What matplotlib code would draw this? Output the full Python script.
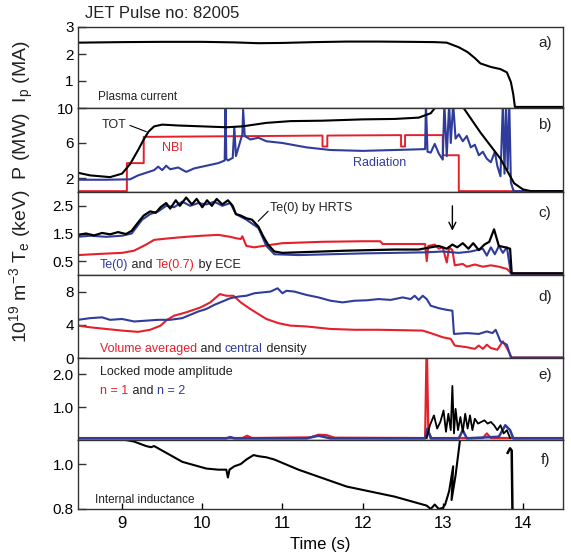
import numpy as np
import matplotlib
matplotlib.use('Agg')
import matplotlib.pyplot as plt
import matplotlib.transforms as mtransforms

plt.rcParams['font.family'] = ['Liberation Sans', 'DejaVu Sans']
plt.rcParams['mathtext.fontset'] = 'custom'
plt.rcParams['mathtext.rm'] = 'Liberation Sans'
plt.rcParams['mathtext.it'] = 'Liberation Sans:italic'

RED = '#e5202b'
BLUE = '#2f3c9c'
INK = '#222222'

# a) plasma current (MA)
ip_t = [8.45, 9.0, 9.5, 10.0, 10.4, 10.7, 11.0, 11.4, 11.8, 12.2, 12.6, 12.9, 13.05, 13.2, 13.31,
        13.4, 13.47, 13.6, 13.72, 13.8, 13.85, 13.88, 13.9, 14.5]
ip_v = [2.42, 2.44, 2.45, 2.45, 2.43, 2.40, 2.41, 2.44, 2.46, 2.46, 2.45, 2.44, 2.42, 2.25, 2.07,
        1.85, 1.65, 1.52, 1.44, 1.32, 0.96, 0.5, 0.04, 0.04]

# b) heating and radiated power (MW)
tot_t = [8.45, 8.6, 8.85, 9.0, 9.1, 9.2, 9.27, 9.33, 9.4, 9.5, 9.7, 10.0, 10.3, 10.5, 10.8, 11.1,
         11.5, 12.0, 12.4, 12.7, 12.85, 12.92, 13.1, 13.26, 13.47, 13.72, 13.89, 14.0, 14.1, 14.5]
tot_v = [2.6, 2.3, 2.1, 2.5, 3.6, 5.2, 6.4, 7.3, 7.9, 8.1, 8.0, 7.9, 7.8, 7.9, 8.3, 8.5,
         8.55, 8.7, 8.75, 8.9, 9.4, 10.2, 10.6, 10.0, 7.2, 4.2, 1.4, 0.7, 0.5, 0.5]

nbi_t = [8.45, 9.06, 9.06, 9.27, 9.27, 10.0, 10.8, 11.5, 11.5, 11.56, 11.56, 12.48, 12.48, 12.53,
         12.53, 13.0, 13.0, 13.2, 13.2, 14.5]
nbi_v = [0.5, 0.5, 3.7, 3.7, 6.7, 6.75, 6.8, 6.85, 5.6, 5.6, 6.85, 6.9, 5.6, 5.6,
         6.9, 6.9, 4.6, 4.6, 0.5, 0.5]

rad_t = [8.45, 8.8, 9.1, 9.2, 9.3, 9.4, 9.45, 9.5, 9.55, 9.6, 9.7, 9.8, 9.9, 10.0, 10.1, 10.2,
         10.28, 10.29, 10.3, 10.32, 10.38, 10.4, 10.42, 10.5, 10.51, 10.53, 10.6, 10.7, 10.8,
         11.0, 11.3, 11.6, 12.0, 12.4, 12.78, 12.79, 12.81, 12.85, 12.9, 12.95, 13.0, 13.02,
         13.05, 13.08, 13.1, 13.13, 13.16, 13.2, 13.25, 13.3, 13.35, 13.4, 13.45, 13.5, 13.55,
         13.6, 13.65, 13.68, 13.72, 13.75, 13.77, 13.79, 13.81, 13.83, 13.85, 13.88, 13.9, 14.5]
rad_v = [1.8, 1.8, 1.85, 2.3, 2.6, 2.9, 3.3, 2.9, 3.4, 3.0, 3.2, 2.7, 3.1, 3.3, 3.5, 3.7,
         4.0, 10.5, 4.2, 4.0, 4.3, 7.8, 4.5, 7.0, 9.8, 6.8, 6.4, 6.6, 6.2,
         6.0, 5.5, 5.2, 5.1, 5.2, 5.3, 10.5, 5.0, 4.9, 5.9, 4.8, 4.1, 10.5,
         4.5, 10.5, 6.0, 10.5, 6.5, 7.0, 6.2, 6.8, 5.5, 5.8, 4.6, 5.0, 4.2,
         3.8, 5.0, 3.4, 2.2, 10.5, 2.5, 10.5, 3.0, 10.5, 1.5, 0.6, 0.5, 0.5]

# c) electron temperature (keV)
hrts_t = [8.45, 8.55, 8.65, 8.75, 8.85, 8.95, 9.05, 9.12, 9.2, 9.27, 9.35, 9.42, 9.48, 9.55, 9.6,
          9.67, 9.72, 9.8, 9.87, 9.93, 10.0, 10.06, 10.12, 10.18, 10.25, 10.32, 10.38, 10.42,
          10.48, 10.55, 10.62, 10.7, 10.76, 10.82, 10.9, 11.0, 11.2, 11.5, 11.8, 12.1, 12.4,
          12.7, 12.85, 12.95, 13.05, 13.12, 13.18, 13.25, 13.32, 13.38, 13.45, 13.52, 13.58,
          13.64, 13.7, 13.78, 13.84, 13.86, 14.5]
hrts_v = [1.45, 1.5, 1.43, 1.52, 1.47, 1.55, 1.48, 1.6, 1.9, 2.15, 2.3, 2.25, 2.45, 2.6, 2.4,
          2.7, 2.5, 2.8, 2.55, 2.75, 2.45, 2.7, 2.5, 2.75, 2.55, 2.7, 2.5, 2.2,
          2.15, 2.05, 2.0, 1.75, 1.4, 1.1, 0.85, 0.8, 0.82, 0.85, 0.88, 0.9, 0.92,
          0.92, 1.0, 1.05, 0.95, 1.1, 1.0, 1.15, 0.95, 1.15, 0.9, 1.1, 1.2,
          1.65, 1.05, 1.0, 0.95, 0.06, 0.06]

ece0_t = [8.45, 8.6, 8.8, 9.0, 9.12, 9.25, 9.35, 9.45, 9.55, 9.65, 9.75, 9.85, 9.95, 10.05, 10.15,
          10.25, 10.35, 10.42, 10.55, 10.7, 10.8, 10.9, 11.2, 11.6, 12.0, 12.4, 12.8, 13.0, 13.2,
          13.35, 13.5, 13.55, 13.6, 13.65, 13.7, 13.75, 13.8, 13.85, 14.5]
ece0_v = [1.38, 1.42, 1.38, 1.42, 1.5, 2.0, 2.2, 2.3, 2.5, 2.45, 2.65, 2.5, 2.6, 2.55, 2.65,
          2.5, 2.6, 2.2, 2.0, 1.7, 1.05, 0.75, 0.72, 0.75, 0.78, 0.8, 0.82, 0.85, 0.8,
          0.85, 0.95, 0.7, 1.0, 0.75, 1.05, 0.8, 1.0, 0.05, 0.05]

ece07_t = [8.45, 8.7, 9.0, 9.15, 9.3, 9.4, 9.6, 9.8, 10.0, 10.2, 10.35, 10.42, 10.48, 10.5, 10.55,
           10.65, 10.8, 11.0, 11.5, 12.0, 12.22, 12.25, 12.78, 12.8, 12.82, 12.9, 12.95, 13.0,
           13.05, 13.08, 13.12, 13.15, 13.25, 13.3, 13.4, 13.5, 13.6, 13.7, 13.8, 13.86, 14.5]
ece07_v = [0.72, 0.76, 0.8, 0.88, 1.1, 1.27, 1.33, 1.38, 1.42, 1.45, 1.38, 1.33, 1.3, 1.4, 1.05,
           1.0, 1.07, 1.15, 1.2, 1.22, 1.22, 1.12, 1.12, 0.5, 1.05, 1.1, 0.95, 1.0,
           0.45, 1.0, 0.9, 0.35, 0.4, 0.3, 0.38, 0.3, 0.35, 0.3, 0.22, 0.05, 0.05]

# d) density (1e19 m^-3)
ncen_t = [8.45, 8.6, 8.75, 8.85, 9.0, 9.15, 9.3, 9.45, 9.6, 9.75, 9.85, 9.95, 10.05, 10.15, 10.25,
          10.35, 10.45, 10.55, 10.65, 10.75, 10.85, 10.94, 11.0, 11.05, 11.15, 11.3, 11.45, 11.6,
          11.75, 11.9, 12.05, 12.2, 12.35, 12.5, 12.6, 12.65, 12.7, 12.75, 12.8, 12.85, 12.95,
          13.05, 13.12, 13.14, 13.3, 13.45, 13.55, 13.62, 13.66, 13.72, 13.8, 13.85, 14.5]
ncen_v = [4.6, 4.8, 4.9, 4.6, 4.7, 4.4, 4.5, 4.6, 4.6, 4.8, 5.2, 5.6, 5.9, 6.4, 6.8,
          7.2, 7.4, 7.5, 7.8, 7.9, 8.0, 8.4, 7.8, 8.1, 8.0, 7.6, 7.3, 6.9,
          6.7, 6.9, 6.95, 7.1, 7.0, 7.3, 7.1, 7.5, 7.0, 7.5, 7.1, 6.3, 6.0,
          5.8, 5.7, 2.9, 3.0, 2.9, 3.2, 3.0, 3.4, 2.0, 1.6, 0.05, 0.05]

nvol_t = [8.45, 8.6, 8.8, 9.0, 9.2, 9.35, 9.48, 9.56, 9.65, 9.8, 9.98, 10.1, 10.22, 10.3, 10.39,
          10.48, 10.6, 10.8, 10.95, 11.1, 11.3, 11.6, 11.9, 12.2, 12.5, 12.75, 12.85, 13.0,
          13.1, 13.15, 13.3, 13.4, 13.45, 13.5, 13.55, 13.6, 13.68, 13.75, 13.8, 13.86, 14.5]
nvol_v = [3.9, 3.7, 3.5, 3.3, 3.15, 3.4, 3.9, 4.6, 5.1, 5.5, 6.1, 6.7, 7.7, 7.5, 7.5,
          6.7, 5.9, 4.7, 4.2, 3.9, 3.8, 3.5, 3.4, 3.4, 3.35, 3.3, 3.0, 2.5,
          2.3, 1.5, 1.3, 1.1, 1.5, 1.1, 1.6, 1.2, 1.0, 2.0, 1.2, 0.05, 0.05]

# e) locked mode amplitude
lm1_t = [8.45, 10.5, 10.56, 10.62, 11.35, 11.45, 11.55, 11.65, 12.78, 12.8, 12.82, 12.86, 13.5,
         13.55, 13.6, 14.5]
lm1_v = [0.06, 0.06, 0.13, 0.06, 0.08, 0.16, 0.15, 0.07, 0.06, 3.0, 0.25, 0.06, 0.06,
         0.2, 0.06, 0.06]

lm2_t = [8.45, 10.3, 10.35, 10.4, 11.3, 11.45, 11.6, 12.78, 12.81, 12.85, 13.2, 13.25, 13.3,
         13.7, 13.78, 13.84, 13.88, 14.5]
lm2_v = [0.05, 0.05, 0.09, 0.05, 0.05, 0.13, 0.05, 0.05, 0.35, 0.05, 0.05, 0.3, 0.05,
         0.1, 0.45, 0.3, 0.05, 0.05]

lmb_t = [12.8, 12.84, 12.89, 12.93, 12.97, 13.01, 13.04, 13.07, 13.1, 13.12, 13.14, 13.16, 13.19,
         13.22, 13.25, 13.28, 13.31, 13.34, 13.37, 13.4, 13.44, 13.48, 13.52, 13.56, 13.6, 13.64,
         13.68, 13.72, 13.76, 13.8, 13.84]
lmb_v = [0.06, 0.45, 0.75, 0.35, 0.55, 0.9, 0.25, 0.8, 0.3, 1.65, 0.2, 0.95, 0.3,
         0.7, 0.25, 0.8, 0.35, 0.75, 0.3, 0.65, 0.5, 0.55, 0.6, 0.5, 0.55, 0.45,
         0.3, 0.45, 0.2, 0.3, 0.06]

# f) internal inductance
li_t = [8.45, 8.7, 9.0, 9.15, 9.3, 9.36, 9.4, 9.5, 9.6, 9.75, 9.9, 10.05, 10.2, 10.3, 10.32, 10.34,
        10.4, 10.48, 10.55, 10.64, 10.7, 10.8, 10.9, 11.0, 11.2, 11.4, 11.6, 11.8, 12.0, 12.2,
        12.4, 12.6, 12.8, 12.85, 12.9, 12.95, 13.0, 13.03, 13.08, 13.13, 13.11, 13.16, 13.22]
li_v = [1.17, 1.14, 1.11, 1.1, 1.08, 1.075, 1.08, 1.06, 1.04, 1.01, 0.995, 0.98, 0.975, 0.975,
        0.94, 0.975, 0.99, 1.0, 1.02, 1.04, 1.035, 1.03, 1.02, 1.005, 0.975, 0.95, 0.925, 0.9,
        0.885, 0.87, 0.855, 0.835, 0.815, 0.8, 0.82, 0.8, 0.805, 0.82, 0.88, 0.99, 0.84, 0.95, 1.12]
li2_t = [13.81, 13.84, 13.86, 13.87]
li2_v = [1.05, 1.07, 1.06, 0.78]


def rainbow(ax, x, y, parts, **kw):
    # draw consecutive text pieces in different colours on one line
    fig = ax.figure
    renderer = fig.canvas.get_renderer()
    tr = ax.transData
    for s, c in parts:
        txt = ax.text(x, y, s, color=c, transform=tr, **kw)
        ext = txt.get_window_extent(renderer)
        tr = mtransforms.offset_copy(txt.get_transform(), fig=fig, x=ext.width * 72 / fig.dpi,
                                     units='points')


W, H = 571, 560
fig = plt.figure(figsize=(W / 100, H / 100), dpi=100)

rows = [(27, 108), (108, 192), (192, 275), (275, 358), (358, 440), (440, 509)]
axes = []
for top, bot in rows:
    ax = fig.add_axes([78 / W, 1 - bot / H, 485 / W, (bot - top) / H])
    ax.set_xlim(8.45, 14.5)
    for sp in ax.spines.values():
        sp.set_linewidth(1.0)
        sp.set_color('#333333')
    ax.tick_params(axis='y', direction='in', length=6, width=1, labelsize=11, pad=3, color='#333333')
    ax.tick_params(axis='x', direction='in', length=4, width=1, labelsize=12, pad=5)
    ax.set_xticks([])
    axes.append(ax)
ax_a, ax_b, ax_c, ax_d, ax_e, ax_f = axes

# a
ax_a.plot(ip_t, ip_v, color='k', lw=1.5)
ax_a.set_ylim(0, 3)
ax_a.set_yticks([1, 2, 3], ['1', '2', '3'])
ax_a.text(8.70, 0.42, 'Plasma current', fontsize=8.5, color=INK, va='center')

# b
ax_b.plot(nbi_t, nbi_v, color=RED, lw=1.4)
ax_b.plot(rad_t, rad_v, color=BLUE, lw=1.5)
ax_b.plot(tot_t, tot_v, color='k', lw=1.5)
ax_b.set_ylim(0.4, 10)
ax_b.set_yticks([2, 6, 10], ['2', '6', '10'])
ax_b.text(8.74, 8.05, 'TOT', fontsize=9, color=INK, va='center')
ax_b.plot([9.1, 9.3], [8.0, 7.3], color='k', lw=0.8)
ax_b.text(9.5, 5.4, 'NBI', fontsize=9, color=RED, va='center')
ax_b.text(11.88, 3.7, 'Radiation', fontsize=9, color=BLUE, va='center')

# c
ax_c.plot(ece07_t, ece07_v, color=RED, lw=1.5)
ax_c.plot(ece0_t, ece0_v, color=BLUE, lw=1.5)
ax_c.plot(hrts_t, hrts_v, color='k', lw=1.6)
ax_c.set_ylim(0, 3)
ax_c.set_yticks([0.5, 1.5, 2.5], ['0.5', '1.5', '2.5'])
ax_c.text(10.84, 2.42, 'Te(0) by HRTS', fontsize=9, color=INK, va='center')
ax_c.plot([10.82, 10.7], [2.3, 1.95], color='k', lw=0.8)
ax_c.annotate('', xy=(13.12, 1.5), xytext=(13.12, 2.6),
              arrowprops=dict(arrowstyle='->,head_width=0.25,head_length=0.5', color='k', lw=1))
rainbow(ax_c, 8.72, 0.36, [('Te(0)', BLUE), (' and ', INK), ('Te(0.7)', RED), (' by ECE', INK)],
        fontsize=9, va='center')

# d
ax_d.plot(nvol_t, nvol_v, color=RED, lw=1.5)
ax_d.plot(ncen_t, ncen_v, color=BLUE, lw=1.5)
ax_d.set_ylim(0, 10)
ax_d.set_yticks([0, 4, 8], ['0', '4', '8'])
rainbow(ax_d, 8.72, 1.05, [('Volume averaged', RED), (' and ', INK), ('central', BLUE),
                           (' density', INK)], fontsize=9, va='center')

# e
ax_e.plot(lm1_t, lm1_v, color=RED, lw=1.6)
ax_e.plot(lm2_t, lm2_v, color=BLUE, lw=1.8)
ax_e.plot(lmb_t, lmb_v, color='k', lw=1.3)
ax_e.set_ylim(0, 2.5)
ax_e.set_yticks([1.0, 2.0], ['1.0', '2.0'])
ax_e.text(8.73, 2.06, 'Locked mode amplitude', fontsize=9, color=INK, va='center')
rainbow(ax_e, 8.73, 1.48, [('n = 1', RED), (' and ', INK), ('n = 2', BLUE)],
        fontsize=9, va='center')

# f
ax_f.plot(li_t, li_v, color='k', lw=1.5)
ax_f.plot(li2_t, li2_v, color='k', lw=1.8)
ax_f.set_ylim(0.8, 1.107)
ax_f.set_yticks([0.8, 1.0], ['0.8', '1.0'])
ax_f.set_xticks([9, 10, 11, 12, 13, 14], ['9', '10', '11', '12', '13', '14'])
ax_f.set_xlabel('Time (s)', fontsize=12, labelpad=4)
ax_f.text(8.66, 0.84, 'Internal inductance', fontsize=8.5, color=INK, va='center')

for ax, lab, yy in zip(axes, ['a)', 'b)', 'c)', 'd)', 'e)', 'f)'],
                       [0.80, 0.80, 0.75, 0.73, 0.79, 0.71]):
    ax.text(0.963, yy, lab, transform=ax.transAxes, fontsize=11, ha='center', va='center', color=INK)

fig.text(85 / W, 1 - 14 / H, 'JET Pulse no: 82005', fontsize=12, va='center', ha='left', color=INK)
fig.text(22 / W, 1 - 192 / H,
         r'10$^{19}$ m$^{-3}$ T$_\mathrm{e}$ (keV)  P (MW)  I$_\mathrm{p}$ (MA)',
         rotation=90, fontsize=14, ha='center', va='center', color=INK)

fig.savefig('out.png', dpi=100, facecolor='white')
